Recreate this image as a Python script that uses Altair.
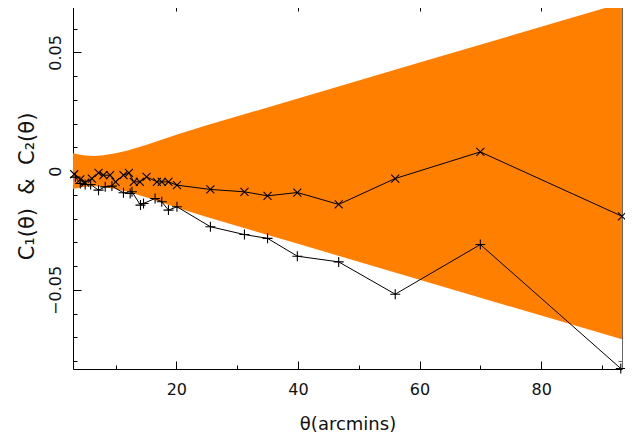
import altair as alt
import pandas as pd

# ---- data ----
band_theta = [3.0, 4.0, 5.0, 6.5, 8.0, 10.0, 12.0, 15.0, 20.0, 25.0, 40.0, 60.0, 80.0, 93.3]
band_half = [0.0075, 0.0070, 0.0066, 0.0064, 0.0067, 0.0075, 0.0087, 0.0110, 0.0153, 0.0193,
             0.0306, 0.0457, 0.0608, 0.0708]

cross_theta = [3.2, 4.2, 5.0, 6.1, 7.2, 8.0, 9.1, 10.0, 11.3, 12.2, 13.0, 14.0, 15.1, 16.8,
               17.6, 18.7, 20.1, 25.6, 31.2, 35.0, 39.9, 46.7, 56.0, 70.0, 93.3]
cross_vals = [-0.0013, -0.0035, -0.0048, -0.0031, -0.0007, -0.0017, -0.0017, -0.0045, -0.0017,
              -0.0007, -0.0045, -0.0045, -0.0024, -0.0045, -0.0045, -0.0045, -0.0059, -0.0077,
              -0.0087, -0.0104, -0.0090, -0.0140, -0.0031, 0.0081, -0.0190]

plus_theta = [3.4, 4.2, 5.0, 5.9, 7.2, 8.3, 9.4, 11.3, 12.4, 12.7, 14.1, 14.6, 16.5, 17.6,
              18.7, 20.1, 25.6, 31.2, 35.0, 39.9, 46.7, 56.0, 70.0, 93.1]
plus_vals = [-0.0025, -0.0052, -0.0056, -0.0056, -0.0080, -0.0066, -0.0063, -0.0091, -0.0094,
             -0.0087, -0.0143, -0.0136, -0.0115, -0.0129, -0.0164, -0.0150, -0.0234, -0.0267,
             -0.0283, -0.0358, -0.0382, -0.0518, -0.0309, -0.0831]

x_label_values = [20, 40, 60, 80]
x_tick_values = [10, 20, 30, 40, 50, 60, 70, 80, 90]
y_label_values = [-0.05, 0.0, 0.05]
y_tick_values = [-0.08, -0.07, -0.06, -0.05, -0.04, -0.03, -0.02, -0.01, 0.0,
                 0.01, 0.02, 0.03, 0.04, 0.05, 0.06, 0.07]
x_domain = [3.0, 93.3]
y_domain = [-0.0833, 0.0708]

# ---- tables ----
band_df = pd.DataFrame({
    "theta": band_theta,
    "lo": [-h for h in band_half],
    "hi": band_half,
})
pts_df = pd.concat([
    pd.DataFrame({"theta": cross_theta, "c": cross_vals, "series": "cross"}),
    pd.DataFrame({"theta": plus_theta, "c": plus_vals, "series": "plus"}),
], ignore_index=True)

W, H = 549, 366
FONT = "DejaVu Sans"
NB = "\u00a0"
xs = alt.Scale(domain=x_domain, nice=False, zero=False)
ys = alt.Scale(domain=y_domain, nice=False, zero=False)

x_tick_size = {"condition": {"test": "datum.value % 20 === 0", "value": 8}, "value": 4}
y_tick_size = {"condition": {"test": "abs(round(datum.value * 100)) % 5 === 0", "value": 8}, "value": 4}

# main axes (labels, titles, domain lines)
x_main = alt.Axis(orient="bottom", values=x_label_values, format="d", ticks=False, tickSize=0,
                  labelPadding=12, labelFontSize=16, labelFont=FONT, labelColor="#111",
                  domainColor="black", domainWidth=1, grid=False,
                  title="θ(arcmins)", titleFont=FONT, titleFontSize=18, titleFontWeight="normal",
                  titleColor="#111", titlePadding=18)
y_main = alt.Axis(orient="left", values=y_label_values, ticks=False, tickSize=0,
                  labelExpr="datum.value == 0 ? '0' : (datum.value < 0 ? '−' + format(-datum.value, '.2f') : format(datum.value, '.2f'))",
                  labelAngle=270, labelAlign="center", labelBaseline="bottom", labelPadding=10,
                  labelFontSize=16, labelFont=FONT, labelColor="#111",
                  domainColor="black", domainWidth=1, grid=False,
                  title="C₁(θ)" + NB * 2 + "&" + NB * 2 + "C₂(θ)", titleFont=FONT, titleFontSize=21,
                  titleFontWeight="normal", titleColor="#111", titlePadding=10)

# inward ticks on bottom and left
x_in = alt.Axis(orient="top", offset=-H, values=x_tick_values, labels=False, domain=False,
                ticks=True, tickSize=x_tick_size, tickColor="black", grid=False, title="")
y_in = alt.Axis(orient="right", offset=-W, values=y_tick_values, labels=False, domain=False,
                ticks=True, tickSize=y_tick_size, tickColor="black", grid=False, title="")

# top and right frame with inward ticks
x_top = alt.Axis(orient="bottom", offset=-H, values=x_tick_values, labels=False, domain=True,
                 domainColor="black", ticks=True, tickSize=x_tick_size, tickColor="black",
                 grid=False, title="")
y_right = alt.Axis(orient="left", offset=-W, values=y_tick_values, labels=False, domain=True,
                   domainColor="#666", ticks=True, tickSize=y_tick_size, tickColor="#666",
                   grid=False, title="")

band = alt.Chart(band_df).mark_area(color="#FF8000", opacity=1).encode(
    x=alt.X("theta:Q", scale=xs, axis=x_main),
    y=alt.Y("lo:Q", scale=ys, axis=y_main),
    y2="hi:Q",
)

lines = alt.Chart(pts_df).mark_line(color="black", strokeWidth=1).encode(
    x=alt.X("theta:Q", scale=xs, axis=x_in),
    y=alt.Y("c:Q", scale=ys, axis=y_in),
    detail="series:N",
)

cross_path = "M-0.8,-0.8L0.8,0.8M0.8,-0.8L-0.8,0.8"
plus_path = "M-1,0L1,0M0,-1L0,1"

points = alt.Chart(pts_df).mark_point(filled=False, color="black", strokeWidth=1.1,
                                      size=100, opacity=1).encode(
    x=alt.X("theta:Q", scale=xs, axis=x_top),
    y=alt.Y("c:Q", scale=ys, axis=y_right),
    shape=alt.Shape("series:N", scale=alt.Scale(domain=["cross", "plus"],
                                                range=[cross_path, plus_path]), legend=None),
)

chart = alt.layer(band, lines, points).resolve_axis(x="independent", y="independent").properties(
    width=W, height=H,
    autosize=alt.AutoSizeParams(type="none"),
    padding={"left": 65, "top": -5, "right": 3, "bottom": 68},
).configure_view(stroke=None).configure(background="white")

chart.save("out.html", embed_options={"renderer": "svg", "actions": False})
